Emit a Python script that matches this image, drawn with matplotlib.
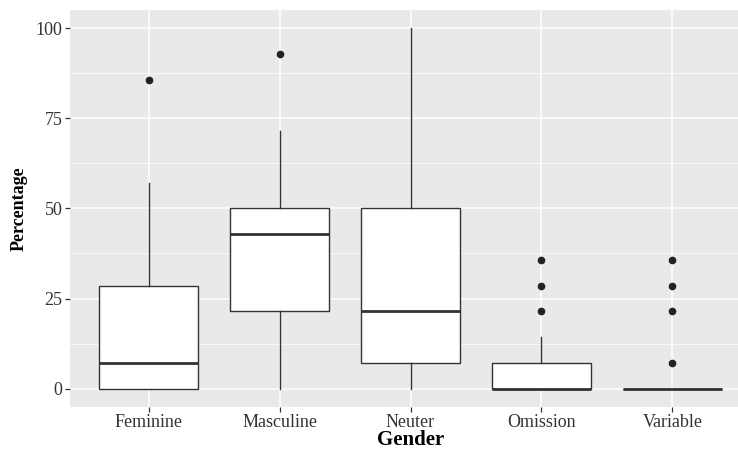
import numpy as np
import matplotlib
matplotlib.use("Agg")
from matplotlib import pyplot as plt

# box statistics (percentages)
genders = ["Feminine", "Masculine", "Neuter", "Omission", "Variable"]
q1 = [0.0, 21.4, 7.1, 0.0, 0.0]
median = [7.1, 42.9, 21.4, 0.0, 0.0]
q3 = [28.6, 50.0, 50.0, 7.1, 0.0]
whisker_low = [0.0, 0.0, 0.0, 0.0, 0.0]
whisker_high = [57.1, 71.4, 100.0, 14.3, 0.0]
outliers = [
    [85.7],
    [92.9],
    [],
    [21.4, 28.6, 35.7],
    [7.1, 21.4, 28.6, 35.7],
]
y_ticks = [0, 25, 50, 75, 100]

plt.rcParams['font.family'] = ['Liberation Serif', 'DejaVu Serif']

fig = plt.figure(figsize=(7.38, 4.5), dpi=100)
# panel runs past the right edge in the reference (cropped)
ax = fig.add_axes([70/738, 43.3/450, 681/738, 396.7/450])
ax.set_facecolor("#E9E9E9")

stats = []
for i, g in enumerate(genders):
    stats.append(dict(label=g, q1=q1[i], med=median[i], q3=q3[i],
                      whislo=whisker_low[i], whishi=whisker_high[i],
                      fliers=outliers[i]))

line_col = "#333333"
ax.bxp(stats, positions=np.arange(1, 6), widths=0.75, showcaps=False,
       patch_artist=True,
       boxprops=dict(facecolor="white", edgecolor=line_col, linewidth=1.0),
       medianprops=dict(color=line_col, linewidth=2.0, solid_capstyle="butt"),
       whiskerprops=dict(color=line_col, linewidth=1.0),
       flierprops=dict(marker="o", markerfacecolor="#222222",
                       markeredgecolor="#222222", markersize=4.5),
       zorder=3)

ax.set_xlim(0.4, 5.6)
ax.set_ylim(-5, 105)
ax.set_yticks(y_ticks)
ax.set_yticks([12.5, 37.5, 62.5, 87.5], minor=True)
ax.set_xticks(np.arange(1, 6))
ax.set_xticklabels(genders)

ax.grid(True, which="major", color="white", linewidth=1.1, zorder=0)
ax.grid(True, which="minor", axis="y", color="white", linewidth=0.55, zorder=0)
ax.set_axisbelow(True)
for s in ax.spines.values():
    s.set_visible(False)

ax.tick_params(axis="both", which="major", length=3.5, width=0.9,
               color=line_col, labelsize=13, labelcolor="#333333", pad=2)
ax.tick_params(axis="both", which="minor", length=0)

ax.set_xlabel("Gender", fontsize=15, fontweight="bold", labelpad=-1)
ax.set_ylabel("Percentage", fontsize=13, fontweight="bold", labelpad=6)

fig.savefig("out.png", dpi=100)
